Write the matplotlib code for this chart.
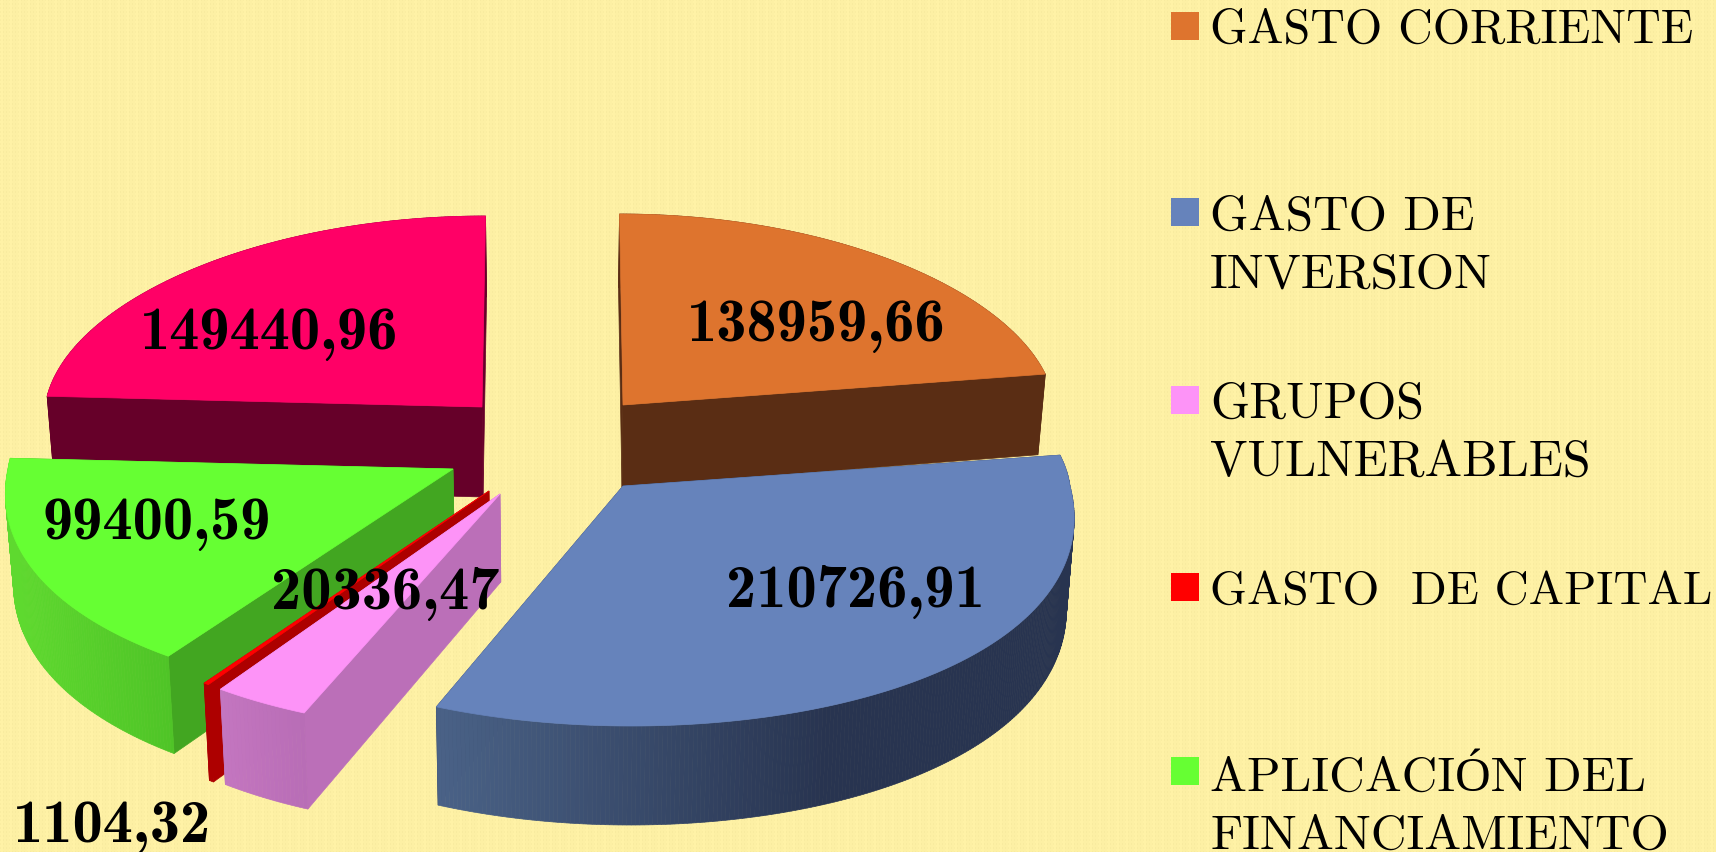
import numpy as np
import matplotlib
matplotlib.use('Agg')
import matplotlib.pyplot as plt
from matplotlib.colors import to_rgb
from matplotlib.patches import Polygon, Rectangle

#datos del grafico
categorias = ['GASTO CORRIENTE', 'GASTO DE\nINVERSION', 'GRUPOS\nVULNERABLES',
              'GASTO  DE CAPITAL', 'APLICACIÓN DEL\nFINANCIAMIENTO']
valores = [138959.66, 210726.91, 20336.47, 1104.32, 99400.59, 149440.96]
etiquetas = ['138959,66', '210726,91', '20336,47', '1104,32', '99400,59', '149440,96']

#estilo de cada porcion (centro, radio, profundidad, colores)
centros = [(623, 406), (623, 487), (500, 495), (489, 492), (453, 470), (482, 408)]
radios = [432, 447, 437, 437, 445, 437]
ry_frente = [239, 240, 238, 236, 230, 235]
k_frente = [0.12, 0.12, 0.12, 0.12, 0.09, 0.12]
profundidad = [82, 90, 88, 90, 90, 90]
col_tapa = ['#de742e', '#6683bb', '#fd93f7', '#ff0000', '#66ff33', '#ff0066']
col_lado = ['#5a2d14', '#283450', '#bb6fb8', '#ad0000', '#42a621', '#660029']
col_pared = [('#5a2d14', '#5a2d14'), ('#4a6287', '#283450'), ('#c476c0', '#b86db6'),
             ('#ad0000', '#ad0000'), ('#5ed92f', '#4fc427'), ('#660029', '#660029')]
pared_x = [(0, 1), (439, 830), (220, 305), (0, 1), (15, 170), (0, 1)]
pos_etiqueta = [(816, 326), (855, 592), (385, 594), (112, 827), (157, 524), (269, 334)]

#posiciones de la leyenda (cuadro y primera linea)
ley_y = [27, 213, 401, 588, 772]
ley_texto_y = [43, 230, 418, 604, 791]
ley_tam = [34.5, 35.5, 36, 34, 35.5]
salto = 58
orden_dibujo = [5, 0, 4, 3, 2, 1]

vx = 553
k_fondo = 0.05
ry_fondo = 191


def borde(i, theta):
    #punto del borde de la tapa con una perspectiva simple
    cx, cy = centros[i]
    c = np.cos(theta)
    x0 = cx + radios[i] * np.sin(theta)
    k = np.where(c < 0, k_frente[i], k_fondo)
    x = vx + (x0 - vx) * (1 - k * c)
    y = cy - np.where(c < 0, ry_frente[i], ry_fondo) * c
    return x, y


def abajo(i, x, y, c):
    d = profundidad[i] * (1 - 0.1 * c)
    return vx + (x - vx) * 0.985, y + d


fig = plt.figure(figsize=(17.16, 8.53), dpi=100)
ax = fig.add_axes([0, 0, 1, 1])
ax.axis('off')

#textura del fondo
yy, xx = np.mgrid[0:853, 0:1716]
fondo = np.ones((853, 1716, 3)) * np.array(to_rgb('#fdf0a4'))
fondo += (((xx % 9) < 3) * 0.008 - ((xx % 3 == 0) & (yy % 4 < 2)) * 0.018)[..., None]
ax.imshow(np.clip(fondo, 0, 1), extent=(0, 1716, 853, 0), aspect='auto', zorder=0, interpolation='nearest')
ax.set_xlim(0, 1716)
ax.set_ylim(853, 0)

limites = np.radians(np.concatenate([[0], np.cumsum(valores)]) / np.sum(valores) * 360)
z = 1
for i in orden_dibujo:
    t = np.linspace(limites[i], limites[i + 1], max(3, int(np.degrees(limites[i + 1] - limites[i])) * 2))
    x, y = borde(i, t)
    xb, yb = abajo(i, x, y, np.cos(t))
    cx, cy = centros[i]
    cxb, cyb = abajo(i, np.array(cx), np.array(cy), 0.0)

    #paredes radiales
    for j in [-1, 0]:
        ax.add_patch(Polygon([(cx, cy), (x[j], y[j]), (xb[j], yb[j]), (cxb, cyb)],
                             fc=col_lado[i], ec=col_lado[i], lw=0.5, zorder=z))
    z += 1

    #pared exterior, por tramos para el degradado
    c0, c1 = np.array(to_rgb(col_pared[i][0])), np.array(to_rgb(col_pared[i][1]))
    for a in range(len(t) - 1):
        f = np.clip((x[a] - pared_x[i][0]) / (pared_x[i][1] - pared_x[i][0]), 0, 1)
        color = c0 + (c1 - c0) * f
        ax.add_patch(Polygon([(x[a], y[a]), (x[a + 1], y[a + 1]), (xb[a + 1], yb[a + 1]), (xb[a], yb[a])],
                             fc=color, ec=color, lw=0.5, zorder=z))
    z += 1

    #tapa
    ax.add_patch(Polygon(np.column_stack([np.r_[cx, x], np.r_[cy, y]]),
                         fc=col_tapa[i], ec=col_tapa[i], lw=0.5, zorder=z))
    z += 1

for i in range(len(valores)):
    ax.text(pos_etiqueta[i][0], pos_etiqueta[i][1], etiquetas[i], family='cmb10', fontsize=43.5,
            ha='center', va='center', color='black', zorder=50)

#leyenda
for i in range(len(categorias)):
    ax.add_patch(Rectangle((1171, ley_y[i] - 14), 28, 28, fc=col_tapa[i], ec='none', zorder=50))
    for n, linea in enumerate(categorias[i].split('\n')):
        ax.text(1210, ley_texto_y[i] + n * salto, linea, family=['cmr10', 'Liberation Serif'], fontsize=ley_tam[i],
                va='baseline', ha='left', color='black', zorder=50)

plt.savefig('out.png', dpi=100)
